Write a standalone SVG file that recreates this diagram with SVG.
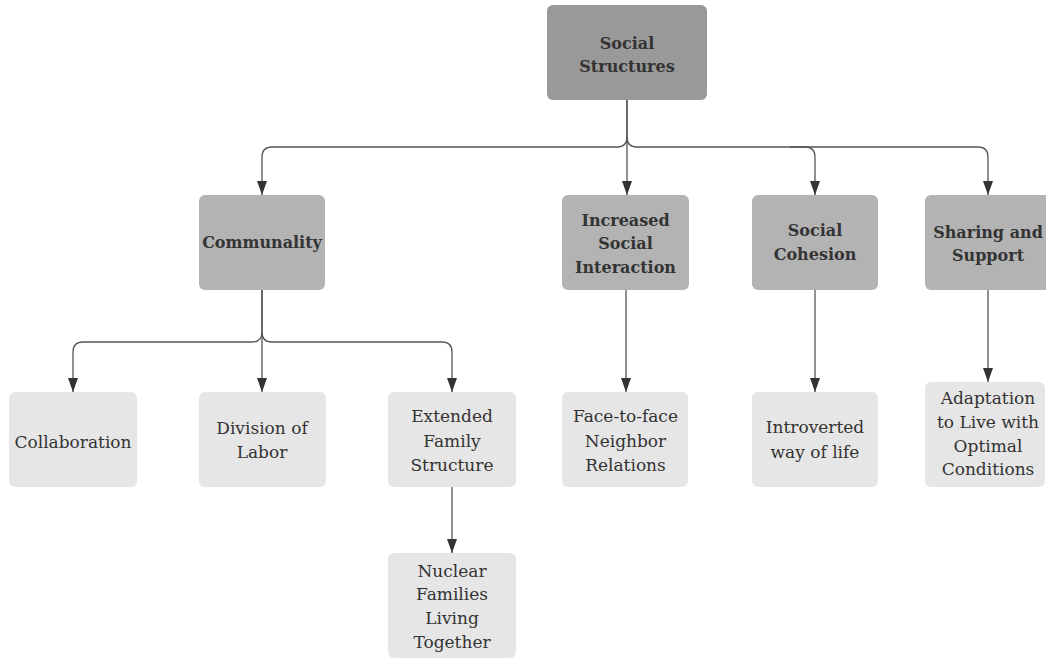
<svg xmlns="http://www.w3.org/2000/svg" width="1046" height="659" viewBox="0 0 1046 659">
<style>
.n1{fill:#999999;}
.n2{fill:#b3b3b3;}
.n3{fill:#e6e6e6;}
text{font-family:"DejaVu Serif",serif;fill:#333333;text-anchor:middle;}
.b{font-weight:bold;font-size:16px;}
.r{font-size:17px;}
.c{fill:none;stroke:#555555;stroke-width:1.3;}
</style>
<defs>
<marker id="ah" viewBox="0 0 14 10" refX="14" refY="5" markerWidth="14" markerHeight="10" markerUnits="userSpaceOnUse" orient="auto">
<path d="M0,0 L14,5 L0,10 Z" fill="#333333"/>
</marker>
</defs>
<rect width="1046" height="659" fill="#ffffff"/>
<g id="connectors">
<path class="c" d="M627,100 V137 Q627,147 617,147 H272 Q262,147 262,157 V195" marker-end="url(#ah)"/>
<path class="c" d="M627,137 Q627,147 637,147 H978 Q988,147 988,157 V195" marker-end="url(#ah)"/>
<path class="c" d="M790,147 H805 Q815,147 815,157 V195" marker-end="url(#ah)"/>
<path class="c" d="M627,100 V195" marker-end="url(#ah)"/>
<path class="c" d="M262,290 V332 Q262,342 252,342 H83 Q73,342 73,352 V392" marker-end="url(#ah)"/>
<path class="c" d="M262,332 Q262,342 272,342 H442 Q452,342 452,352 V392" marker-end="url(#ah)"/>
<path class="c" d="M262,290 V392" marker-end="url(#ah)"/>
<path class="c" d="M626,290 V392" marker-end="url(#ah)"/>
<path class="c" d="M815,290 V392" marker-end="url(#ah)"/>
<path class="c" d="M988,290 V382" marker-end="url(#ah)"/>
<path class="c" d="M452,487 V553" marker-end="url(#ah)"/>
</g>
<g id="social-structures">
<rect class="n1" x="547" y="5" width="160" height="95" rx="6"/>
<text class="b" x="627" y="49">Social</text>
<text class="b" x="627" y="72">Structures</text>
</g>
<g id="communality">
<rect class="n2" x="199" y="195" width="126" height="95" rx="6"/>
<text class="b" x="262" y="248">Communality</text>
</g>
<g id="increased-social-interaction">
<rect class="n2" x="562" y="195" width="127" height="95" rx="6"/>
<text class="b" x="625.5" y="226">Increased</text>
<text class="b" x="625.5" y="249">Social</text>
<text class="b" x="625.5" y="273">Interaction</text>
</g>
<g id="social-cohesion">
<rect class="n2" x="752" y="195" width="126" height="95" rx="6"/>
<text class="b" x="815" y="236">Social</text>
<text class="b" x="815" y="260">Cohesion</text>
</g>
<g id="sharing-and-support">
<rect class="n2" x="925" y="195" width="130" height="95" rx="6"/>
<text class="b" x="988" y="238">Sharing and</text>
<text class="b" x="988" y="261">Support</text>
</g>
<g id="collaboration">
<rect class="n3" x="9" y="392" width="128" height="95" rx="6"/>
<text class="r" x="73" y="448">Collaboration</text>
</g>
<g id="division-of-labor">
<rect class="n3" x="199" y="392" width="127" height="95" rx="6"/>
<text class="r" x="262" y="434">Division of</text>
<text class="r" x="262" y="458">Labor</text>
</g>
<g id="extended-family-structure">
<rect class="n3" x="388" y="392" width="128" height="95" rx="6"/>
<text class="r" x="452" y="422">Extended</text>
<text class="r" x="452" y="447">Family</text>
<text class="r" x="452" y="471">Structure</text>
</g>
<g id="face-to-face">
<rect class="n3" x="562" y="392" width="126" height="95" rx="6"/>
<text class="r" x="625.5" y="422">Face-to-face</text>
<text class="r" x="625.5" y="447">Neighbor</text>
<text class="r" x="625.5" y="471">Relations</text>
</g>
<g id="introverted">
<rect class="n3" x="752" y="392" width="126" height="95" rx="6"/>
<text class="r" x="815" y="433">Introverted</text>
<text class="r" x="815" y="458">way of life</text>
</g>
<g id="adaptation">
<rect class="n3" x="925" y="382" width="120" height="105" rx="6"/>
<text class="r" x="988" y="404">Adaptation</text>
<text class="r" x="988" y="428">to Live with</text>
<text class="r" x="988" y="452">Optimal</text>
<text class="r" x="988" y="475">Conditions</text>
</g>
<g id="nuclear-families">
<rect class="n3" x="388" y="553" width="128" height="105" rx="6"/>
<text class="r" x="452" y="577">Nuclear</text>
<text class="r" x="452" y="600">Families</text>
<text class="r" x="452" y="624">Living</text>
<text class="r" x="452" y="648">Together</text>
</g>
</svg>
